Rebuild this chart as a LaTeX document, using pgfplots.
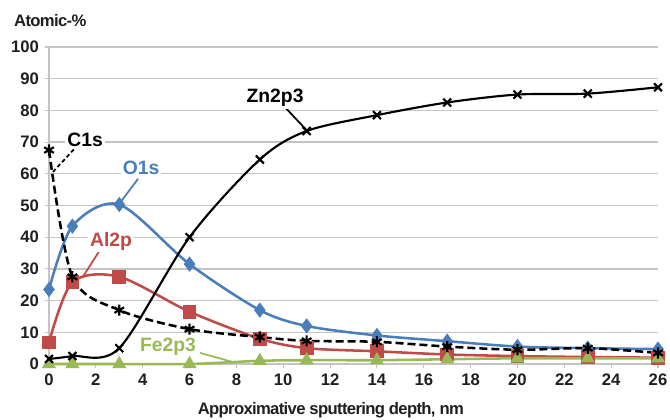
\documentclass[border=0pt]{standalone}
\usepackage{pgfplots}
\pgfplotsset{compat=1.18}
\usepackage{fontspec}
\setmainfont{Liberation Sans}
\newfontfamily\tightfont[LetterSpace=-4]{Liberation Sans}
\definecolor{cblue}{HTML}{4A7EBB}
\definecolor{cred}{HTML}{BE4B48}
\definecolor{cgreen}{HTML}{98B954}
\definecolor{cgrid}{HTML}{C4C4C4}
\begin{document}
\begin{tikzpicture}
\useasboundingbox (-36.75pt,-41.25pt) rectangle (465.75pt,273pt);
\begin{axis}[
  at={(0,0)}, anchor=south west,
  scale only axis, width=456.75pt, height=237.75pt,
  xmin=0, xmax=26, ymin=0, ymax=100,
  xtick={0,2,...,26}, ytick={0,10,...,100},
  axis lines=left, axis line style={cgrid, line width=1pt, -},
  ymajorgrids, grid style={cgrid, line width=1pt},
  tick style={cgrid, line width=0.8pt},
  tick align=outside, major tick length=3pt,
  tick label style={font=\fontsize{12.5}{14}\selectfont\bfseries, text=black!88},
  yticklabel style={xshift=-1pt},
  xticklabel style={yshift=-1pt},
  /pgf/number format/assume math mode=true,
  clip=false,
  xlabel={Approximative sputtering depth, nm},
  xlabel style={font=\tightfont\fontsize{12.5}{14}\selectfont\bfseries, text=black!88, at={(axis description cs:0.5,0)}, anchor=center, yshift=-34.5pt, xshift=-17pt},
  every axis plot/.append style={line width=1.9pt, smooth, tension=0.5},
]
% O1s
\addplot[cblue, mark=diamond*, mark size=4.2pt, mark options={solid, fill=cblue}] coordinates {
(0,23.5) (1,43.5) (3,50.3) (6,31.5) (9,17) (11,12) (14,9) (17,7.2) (20,5.5) (23,5) (26,4.7)};
% Al2p
\addplot[cred, mark=square*, mark size=4.2pt, mark options={solid, fill=cred}] coordinates {
(0,6.8) (1,25.8) (3,27.5) (6,16.5) (9,8) (11,5) (14,4) (17,3) (20,2.5) (23,2.2) (26,2)};
% Fe2p3
\addplot[cgreen, mark=triangle*, mark size=4.2pt, mark options={solid, fill=cgreen}] coordinates {
(0,0) (1,0) (3,0) (6,0) (9,1) (11,1.2) (14,1.2) (17,1.5) (20,1.8) (23,1.8) (26,1.8)};
% Zn2p3
\addplot[black, line width=1.6pt, mark=x, mark size=4.2pt, mark options={solid, line width=1.6pt}] coordinates {
(0,1.6) (1,2.5) (3,5) (6,40) (9,64.5) (11,73.5) (14,78.5) (17,82.5) (20,85) (23,85.3) (26,87.3)};
% C1s
\addplot[black, dashed, dash pattern=on 6pt off 3pt, line width=1.9pt, mark=asterisk, mark size=4.2pt, mark options={solid, line width=1.6pt}] coordinates {
(0,67.5) (1,27.5) (3,17) (6,11) (9,8.5) (11,7.3) (14,7) (17,5.5) (20,4.5) (23,5) (26,3.5)};

% leader lines
\draw[black, line width=1.3pt, dashed, dash pattern=on 3pt off 2pt] (axis cs:0.17,60.6) -- (axis cs:1.1,68);
\draw[cblue, line width=1.3pt] (axis cs:3.8,58.4) -- (axis cs:3.03,50.8);
\draw[black, line width=1.3pt] (axis cs:10.1,80.8) -- (axis cs:11.07,73.2);
\draw[cred, line width=1.3pt] (axis cs:2.18,36) -- (axis cs:1.41,27.1);
\draw[cgreen, line width=1.3pt] (axis cs:6.45,3.5) -- (axis cs:7.86,0.6);

% labels
\tikzset{lbl/.style={font=\fontsize{14.5}{16}\selectfont\bfseries, fill=white, inner sep=1.5pt}}
\node[lbl, text=black] at (axis cs:1.54,70.7) {C1s};
\node[lbl, text=cblue] at (axis cs:3.93,61.8) {O1s};
\node[lbl, text=black] at (axis cs:9.65,83.9) {Zn2p3};
\node[lbl, text=cred] at (axis cs:2.65,38.8) {Al2p};
\node[lbl, text=cgreen] at (axis cs:5.08,5.4) {Fe2p3};

\node[font=\tightfont\fontsize{12.5}{14}\selectfont\bfseries, text=black!88, anchor=west] at (axis description cs:-0.065,1.085) {Atomic-\%};
\end{axis}
\end{tikzpicture}
\end{document}
